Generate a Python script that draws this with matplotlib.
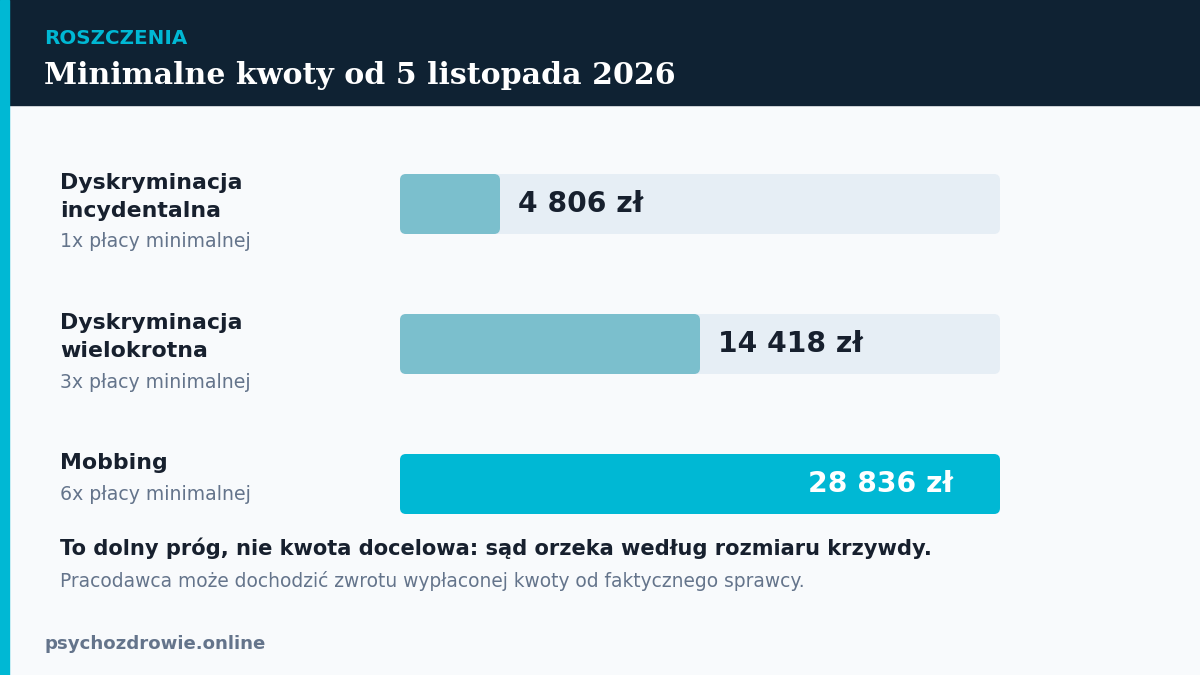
import matplotlib
matplotlib.use("Agg")
import matplotlib.pyplot as plt
from matplotlib.patches import FancyBboxPatch, Rectangle

categories = ["Dyskryminacja\nincydentalna", "Dyskryminacja\nwielokrotna", "Mobbing"]
subtitles = ["1x płacy minimalnej", "3x płacy minimalnej", "6x płacy minimalnej"]
values = [4806, 14418, 28836]
labels = ["4 806 zł", "14 418 zł", "28 836 zł"]
vmax = 28836

W, H = 1200, 675
fig = plt.figure(figsize=(12, 6.75), dpi=100)
fig.patch.set_facecolor("#f8fafc")
fig.patches.append(Rectangle((0, 1 - 105 / H), 1, 105 / H, transform=fig.transFigure, color="#0f2233", zorder=0))
fig.patches.append(Rectangle((0, 0), 9 / W, 1, transform=fig.transFigure, color="#00b8d4", zorder=1))

fig.text(44 / W, 1 - 38 / H, "ROSZCZENIA", color="#00b8d4", fontsize=14.3, fontweight="bold", va="center")
fig.text(44 / W, 1 - 75 / H, "Minimalne kwoty od 5 listopada 2026", color="white", fontsize=21.6,
         fontweight="bold", family="DejaVu Serif", va="center")

top, bot = 134, 554
ax = fig.add_axes([400 / W, 1 - bot / H, 600 / W, (bot - top) / H])
ax.set_xlim(0, vmax)
ax.set_ylim(2.5, -0.5)
ax.axis("off")
h = 60 / 140
xu = vmax / 600
asp = (1 / 140) / xu
for i, v in enumerate(values):
    ax.add_patch(FancyBboxPatch((0, i - h / 2), vmax, h, boxstyle=f"round,pad=0,rounding_size={6*xu}",
                                mutation_aspect=asp, fc="#e6eef5", ec="none"))
    col = "#00b8d4" if v == vmax else "#7bbfcd"
    ax.add_patch(FancyBboxPatch((0, i - h / 2), v, h, boxstyle=f"round,pad=0,rounding_size={6*xu}",
                                mutation_aspect=asp, fc=col, ec="none"))
    if v == vmax:
        ax.text(v - 47 * xu, i, labels[i], color="white", fontsize=20.3, fontweight="bold", ha="right", va="center")
    else:
        ax.text(v + 18 * xu, i, labels[i], color="#17202e", fontsize=20.3, fontweight="bold", ha="left", va="center")

ys = [(183, 211, 242), (323, 351, 382), (None, 463, 494)]
for i in range(3):
    t1, t2, s = ys[i]
    lines = categories[i].split("\n")
    if len(lines) == 2:
        fig.text(60 / W, 1 - t1 / H, lines[0], color="#17202e", fontsize=15.8, fontweight="bold", va="center")
        fig.text(60 / W, 1 - t2 / H, lines[1], color="#17202e", fontsize=15.8, fontweight="bold", va="center")
    else:
        fig.text(60 / W, 1 - t2 / H, lines[0], color="#17202e", fontsize=15.8, fontweight="bold", va="center")
    fig.text(60 / W, 1 - s / H, subtitles[i], color="#64748b", fontsize=13.6, va="center")

fig.text(60 / W, 1 - 548 / H, "To dolny próg, nie kwota docelowa: sąd orzeka według rozmiaru krzywdy.",
         color="#17202e", fontsize=15.1, fontweight="bold", va="center")
fig.text(60 / W, 1 - 581 / H, "Pracodawca może dochodzić zwrotu wypłaconej kwoty od faktycznego sprawcy.",
         color="#64748b", fontsize=13.4, va="center")
fig.text(44 / W, 1 - 644 / H, "psychozdrowie.online", color="#64748b", fontsize=13.1, fontweight="bold", va="center")

fig.savefig("out.png", dpi=100, facecolor=fig.get_facecolor())
